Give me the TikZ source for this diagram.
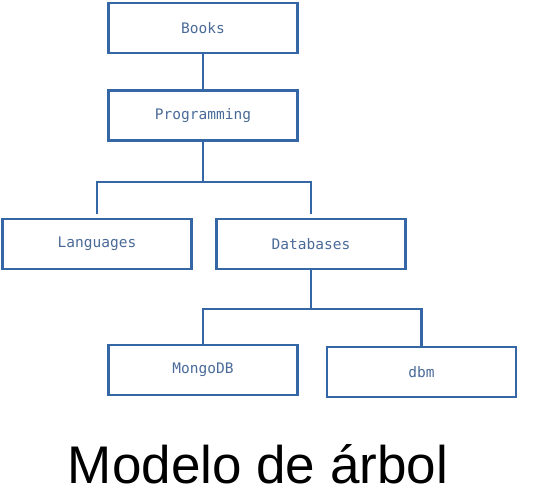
\documentclass[tikz,border=0pt]{standalone}
\usepackage{xcolor}
\usepackage{fontspec}
\setmainfont{Liberation Sans}
\newfontfamily\boxfont{DejaVu Sans Mono}
\usepackage{tikz}
\usetikzlibrary{positioning}

\definecolor{borde}{HTML}{3566A6}
\definecolor{texto}{HTML}{4A6A98}

\begin{document}
\begin{tikzpicture}[x=1pt, y=-1pt,
  caja/.style={draw=borde, line width=2.4pt, minimum width=189pt, minimum height=50pt,
    inner sep=0pt, text=texto, font=\boxfont\fontsize{14.5}{16}\selectfont},
  enlace/.style={draw=borde, line width=2.2pt}]
\useasboundingbox (0,0) rectangle (551,495);
% Nodos
\node[caja] (books) at (203,28) {Books};
\node[caja, below=35pt of books] (prog) {Programming};
\node[caja, below=76pt of prog, xshift=-106pt] (lang) {Languages};
\node[caja, below=76pt of prog, xshift=108pt] (db) {Databases};
\node[caja, below=74pt of db, xshift=-108pt] (mongo) {MongoDB};
\node[caja, right=27pt of mongo, yshift=-2pt] (dbm) {dbm};
\node[anchor=base, font=\fontsize{53}{60}\selectfont] (titulo) at (258,483) {Modelo de árbol};

% Conexiones
\draw[enlace] (books) -- (prog);
\draw[enlace, shorten >=4pt] (prog.south) -- ++(0,40) -| (lang.north);
\draw[enlace, shorten >=4pt] (prog.south) -- ++(0,40) -| (db.north);
\draw[enlace] (db.south) -- ++(0,39) -| (mongo.north);
\draw[enlace] (db.south) -- ++(0,39) -| (dbm.north);
\end{tikzpicture}
\end{document}
